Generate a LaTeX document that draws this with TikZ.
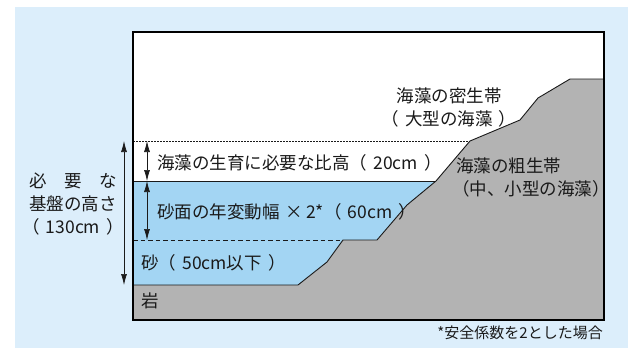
\documentclass[tikz,border=0pt]{standalone}
\usepackage{fontspec}
\setmainfont{Noto Sans CJK JP}
\usepackage{tikz}
\usetikzlibrary{arrows.meta}

\definecolor{paleblue}{HTML}{DCEEFB}
\definecolor{sea}{HTML}{A3D5F3}
\definecolor{rock}{HTML}{B3B3B3}
\definecolor{ink}{HTML}{1A1A1A}

\newcommand{\gap}{\hspace{0.35em}}

\tikzset{
	txt/.style={inner sep=0pt, anchor=west, text=ink, font=\fontsize{17.5}{23}\selectfont},
	dim/.style={{Latex[length=11pt,width=6pt]}-{Latex[length=11pt,width=6pt]}, line width=0.7pt, ink},
	level/.style={line width=0.9pt, ink}
}

\begin{document}
\begin{tikzpicture}[x=1pt, y=-1pt]

	% ---- parameters

	\def\xl{133}
	\def\xr{604}
	\def\yt{32}
	\def\yb{320}

	% ---- background

	\useasboundingbox (0,0) rectangle (633,348);
	\fill[paleblue] (15,7) rectangle (628,348);
	\fill[white] (\xl,\yt) rectangle (\xr,\yb);

	% ---- levels

	\coordinate (top) at (\xl,141);   % dotted
	\coordinate (sea) at (\xl,181);   % sea water surface
	\coordinate (sand) at (\xl,240);  % dashed
	\coordinate (base) at (\xl,285);  % rock

	% ---- rock profile

	\coordinate (R1) at (298,285);
	\coordinate (R2) at (327,262);
	\coordinate (R3) at (343,240);
	\coordinate (R4) at (377,240);
	\coordinate (R5) at (407,205);
	\coordinate (R6) at (436,181);
	\coordinate (R7) at (470,141);
	\coordinate (R8) at (520,120);
	\coordinate (R9) at (538,98);
	\coordinate (R10) at (570,79);
	\coordinate (R11) at (\xr,79);

	% ---- water and sand

	\fill[sea] (sea) -- (R6) -- (R5) -- (R4) -- (R3) -- (R2) -- (R1) -- (base) -- cycle;

	% ---- rock

	\fill[rock] (\xl,\yb) -- (base) -- (R1) -- (R2) -- (R3) -- (R4) -- (R5) -- (R6)
		-- (R7) -- (R8) -- (R9) -- (R10) -- (R11) -- (\xr,\yb) -- cycle;
	\draw[level] (base) -- (R1) -- (R2) -- (R3) -- (R4) -- (R5) -- (R6)
		-- (R7) -- (R8) -- (R9) -- (R10) -- (R11);

	% ---- level lines

	\draw[level, line width=0.8pt, dash pattern=on 1.6pt off 1.4pt] (top) -- (R7);
	\draw[level] (sea) -- (R6);
	\draw[level, dash pattern=on 4.5pt off 3pt] (sand) -- (R3);

	% ---- frame

	\draw[line width=1.6pt, black] (\xl,\yt) rectangle (\xr,\yb);

	% ---- height arrows

	\draw[dim] (124,141) -- (124,285);
	\draw[dim] (147,141) -- (147,181);
	\draw[dim] (147,181) -- (147,240);

	% ---- labels

	\node[txt, anchor=center, align=center] (height) at (73,204)
		{\makebox[5em][s]{必\hfil 要\hfil な}\\基盤の高さ\\（{\gap}130cm{\gap}）};

	\node[txt] (growth) at (157,163) {海藻の生育に必要な比高（{\gap}20cm{\gap}）};
	\node[txt] (change) at (157,212) {砂面の年変動幅{\gap}×{\,}2*（{\gap}60cm{\gap}）};
	\node[txt] (sandlbl) at (141,263) {砂（{\gap}50cm以下{\gap}）};
	\node[txt] (rocklbl) at (141,301) {岩};

	\node[txt, anchor=center, align=center] (dense) at (449,107)
		{海藻の密生帯\\（{\gap}大型の海藻{\gap}）};
	\node[txt, anchor=center, align=left] (sparse) at (531,177)
		{\ 海藻の粗生帯\\（中、小型の海藻）};

	\node[txt, anchor=east, font=\fontsize{15}{18}\selectfont] (note) at (603,333)
		{*安全係数を2とした場合};

\end{tikzpicture}
\end{document}
